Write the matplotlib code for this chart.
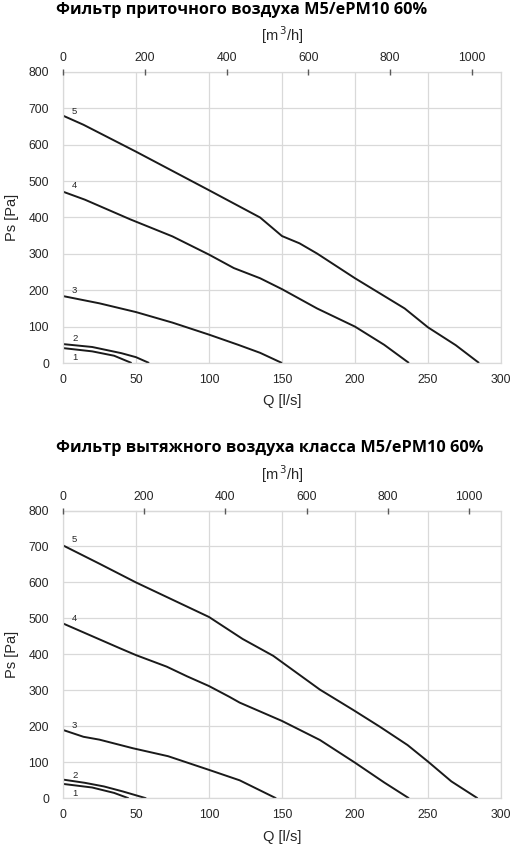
import numpy as np
import matplotlib
matplotlib.use("Agg")
import matplotlib.pyplot as plt

# --- supply filter (top chart) ---
sup_q1 = [0, 20, 35, 47]
sup_p1 = [41, 32, 20, 0]
sup_q2 = [0, 20, 40, 50, 59]
sup_p2 = [52, 44, 27, 16, 0]
sup_q3 = [0, 25, 50, 75, 100, 120, 135, 150]
sup_p3 = [184, 164, 140, 111, 78, 50, 28, 0]
sup_q4 = [0, 15, 46, 75, 100, 117, 135, 150, 174, 200, 220, 237]
sup_p4 = [471, 449, 395, 348, 298, 261, 233, 203, 150, 100, 50, 0]
sup_q5 = [0, 14, 50, 100, 135, 150, 162, 174, 200, 234, 250, 269, 285]
sup_p5 = [680, 655, 581, 475, 400, 349, 329, 301, 233, 150, 98, 49, 0]

# --- exhaust filter (bottom chart) ---
exh_q1 = [0, 20, 35, 45]
exh_p1 = [40, 30, 15, 0]
exh_q2 = [0, 15, 28, 41, 57]
exh_p2 = [52, 43, 33, 19, 0]
exh_q3 = [0, 14, 25, 48, 72, 100, 121, 146]
exh_p3 = [190, 171, 163, 139, 117, 79, 50, 0]
exh_q4 = [0, 39, 50, 71, 85, 100, 114, 121, 150, 176, 200, 220, 237]
exh_p4 = [486, 417, 398, 366, 339, 312, 282, 266, 215, 162, 99, 44, 0]
exh_q5 = [0, 25, 50, 100, 123, 144, 176, 199, 217, 236, 250, 266, 284]
exh_p5 = [703, 652, 600, 504, 443, 396, 302, 245, 199, 148, 102, 47, 0]

curve_names = ["1", "2", "3", "4", "5"]
sup_label_y = [16, 68, 199, 488, 692]
exh_label_y = [14, 64, 202, 500, 718]

x_ticks = [0, 50, 100, 150, 200, 250, 300]
y_ticks = [0, 100, 200, 300, 400, 500, 600, 700, 800]
m3h_ticks = [0, 200, 400, 600, 800, 1000]

titles = ["Фильтр приточного воздуха M5/ePM10 60%",
          "Фильтр вытяжного воздуха класса M5/ePM10 60%"]
m3h_max = [1071, 1079]

sup = [(sup_q1, sup_p1), (sup_q2, sup_p2), (sup_q3, sup_p3), (sup_q4, sup_p4), (sup_q5, sup_p5)]
exh = [(exh_q1, exh_p1), (exh_q2, exh_p2), (exh_q3, exh_p3), (exh_q4, exh_p4), (exh_q5, exh_p5)]

plt.rcParams['font.family'] = ['Liberation Sans', 'DejaVu Sans']
grid_c = '#d9d9d9'
txt_c = '#262626'

fig = plt.figure(figsize=(5.12, 8.46), dpi=100)
W, H = 512, 846

def make_panel(top_px, bot_px, data, label_y, title, title_y, xmax_m3h):
    ax = fig.add_axes([63 / W, 1 - bot_px / H, 438 / W, (bot_px - top_px) / H])
    for (q, p) in data:
        ax.plot(q, p, color='#1a1a1a', lw=1.4, solid_capstyle='butt')
    for name, ly in zip(curve_names, label_y):
        ax.text(8, ly, name, fontsize=6.8, color=txt_c, ha='center', va='center')
    ax.set_xlim(0, 300)
    ax.set_ylim(0, 800)
    ax.set_xticks(x_ticks)
    ax.set_yticks(y_ticks)
    ax.grid(True, color=grid_c, lw=0.9)
    ax.set_axisbelow(True)
    for s in ax.spines.values():
        s.set_color(grid_c)
        s.set_linewidth(0.9)
    ax.tick_params(length=0, labelsize=8.8, labelcolor=txt_c)
    ax.tick_params(axis='x', pad=8)
    ax.tick_params(axis='y', pad=10)
    ax.set_xlabel('Q [l/s]', fontsize=10.5, color=txt_c, labelpad=6)
    ax.set_ylabel('Ps [Pa]', fontsize=10.5, color=txt_c, labelpad=7)

    ax2 = ax.twiny()
    ax2.set_xlim(0, xmax_m3h)
    ax2.set_xticks(m3h_ticks)
    ax2.tick_params(axis='x', direction='inout', length=5, width=1, color='#595959',
                    labelsize=8.8, labelcolor=txt_c, pad=3)
    for s in ax2.spines.values():
        s.set_visible(False)
    ax2.set_xlabel('[m$^{\\,3}$/h]', fontsize=10.5, color=txt_c, labelpad=8)

    fig.text(56 / W, 1 - title_y / H, title, fontsize=11.7, fontweight='bold',
             family=['Open Sans', 'DejaVu Sans'], color='black', ha='left', va='center')

make_panel(72, 363, sup, sup_label_y, titles[0], 10.5, m3h_max[0])
make_panel(510.5, 798.3, exh, exh_label_y, titles[1], 447.5, m3h_max[1])

fig.savefig('out.png', dpi=100, facecolor='white')
